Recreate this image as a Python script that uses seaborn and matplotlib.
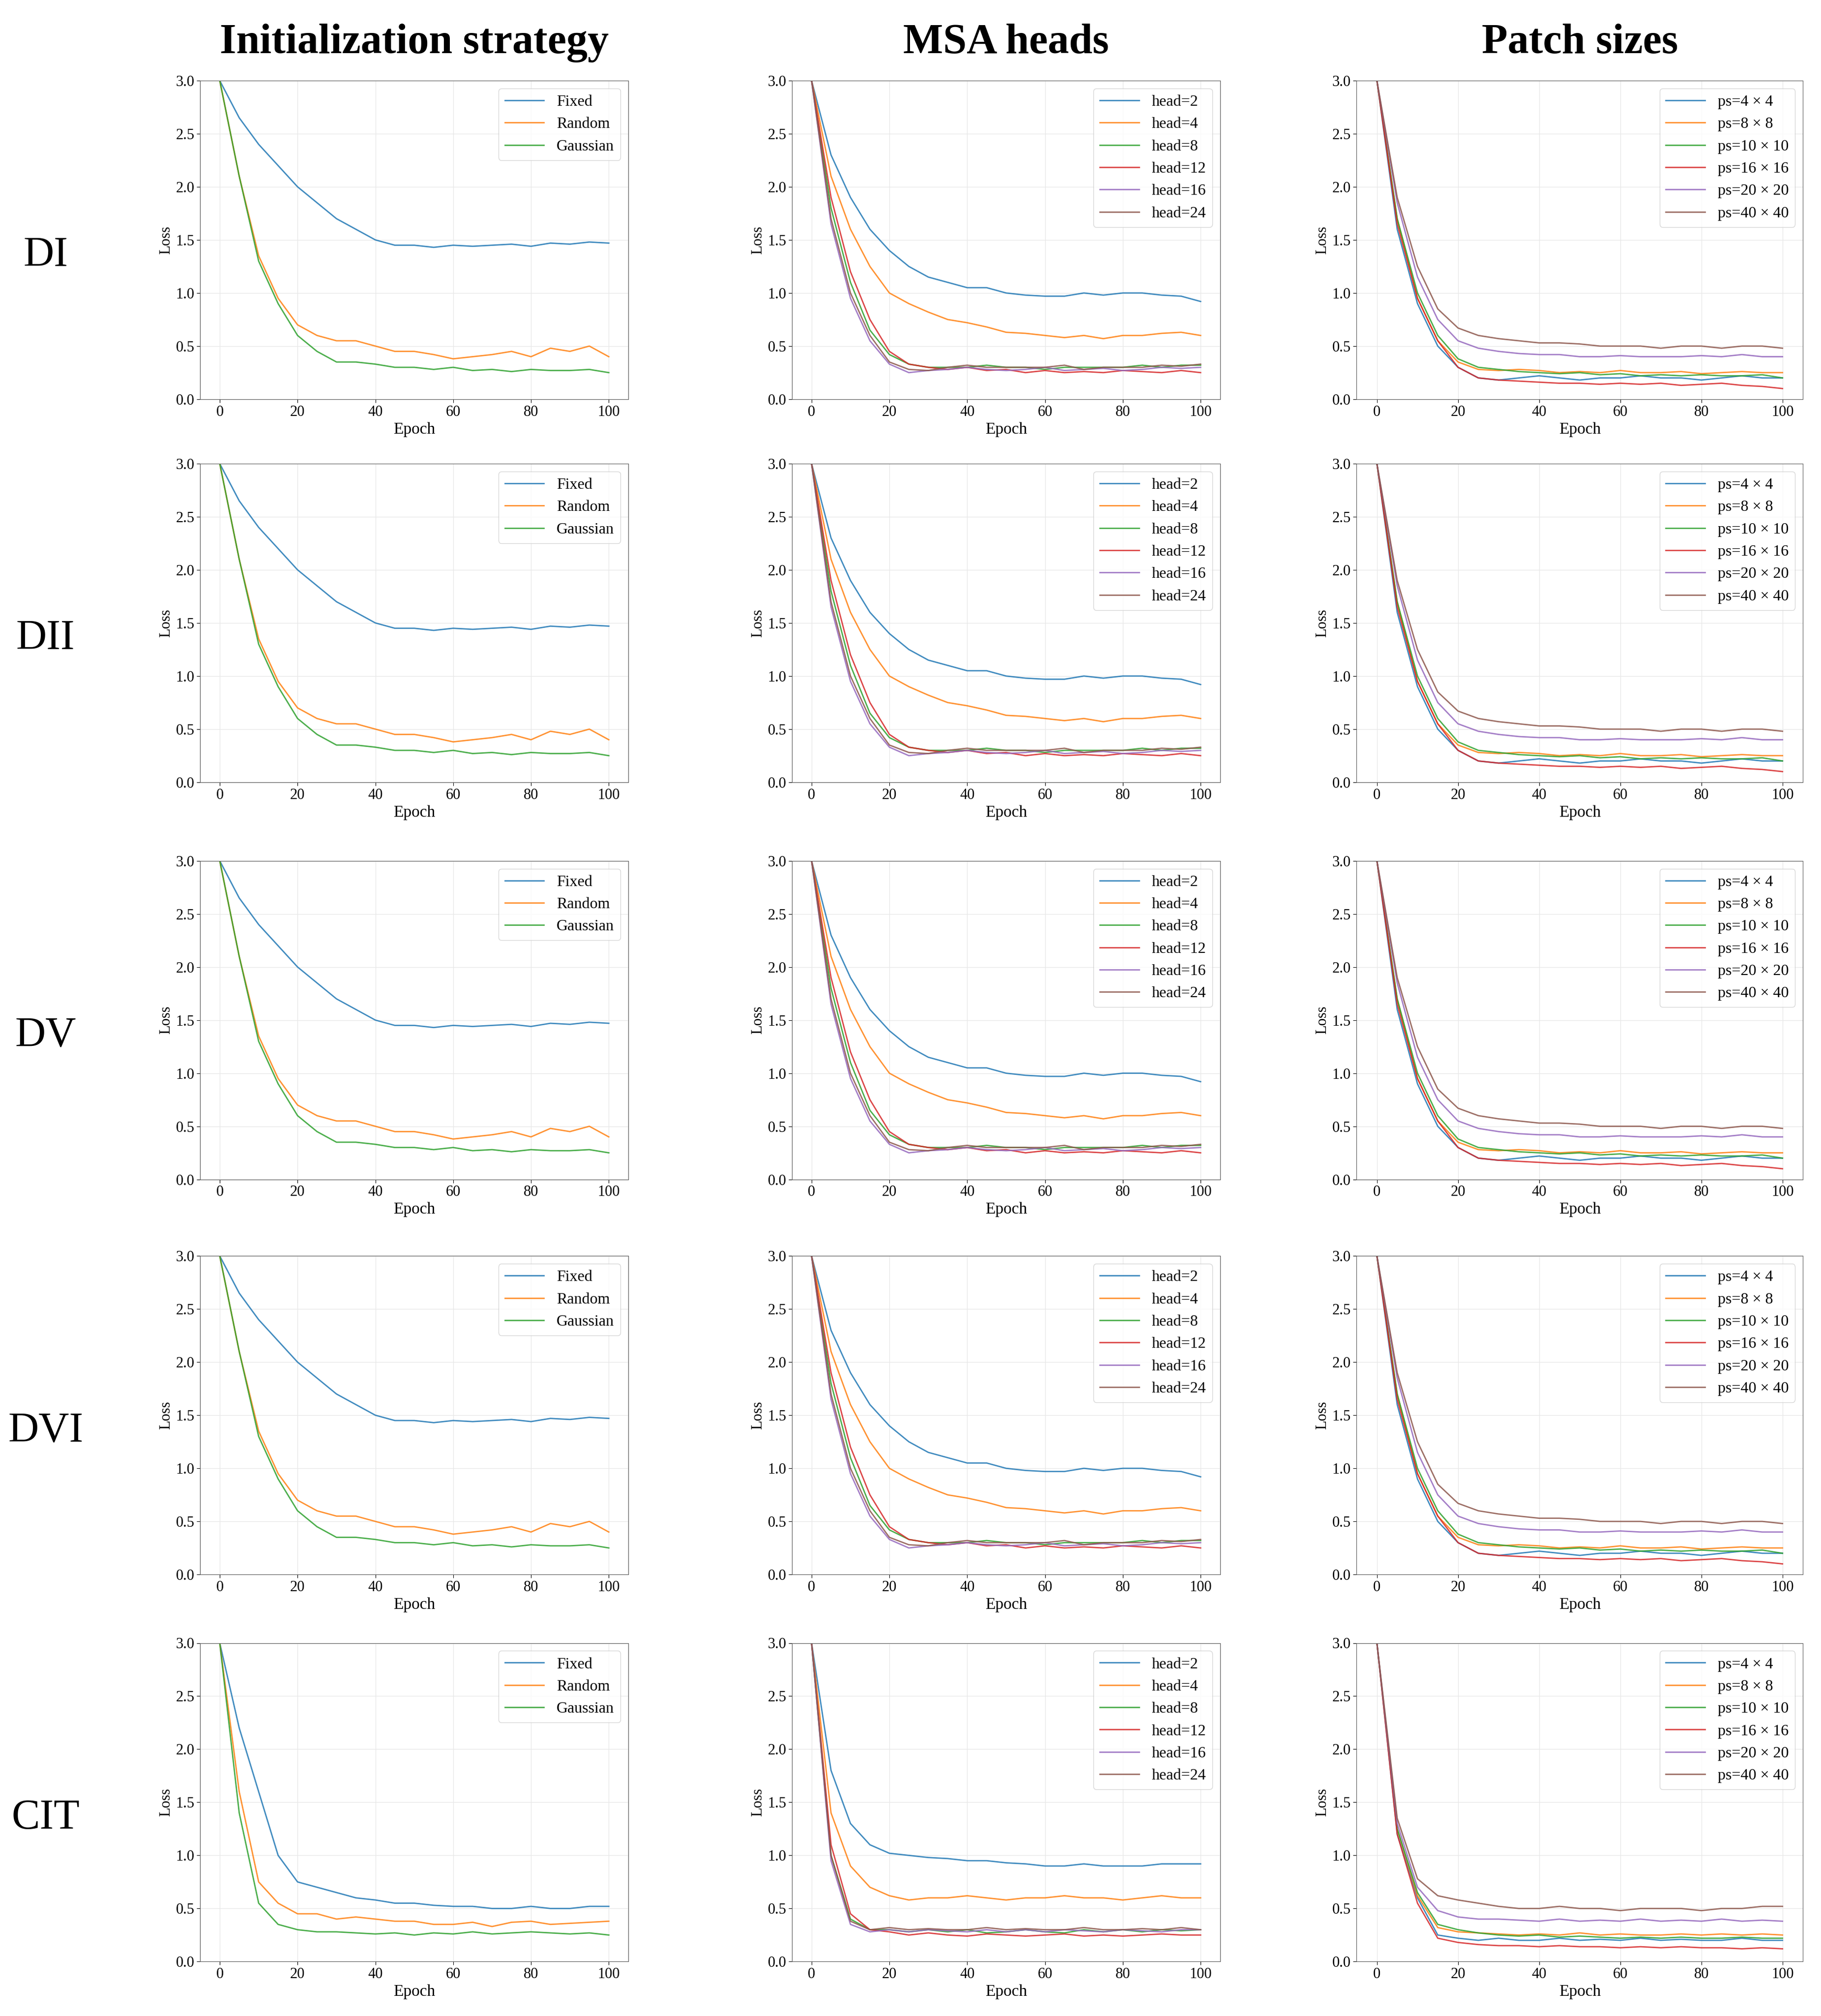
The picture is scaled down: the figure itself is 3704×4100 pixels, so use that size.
import matplotlib
matplotlib.use("Agg")
import matplotlib.pyplot as plt
import seaborn as sns
import pandas as pd

EPOCHS = list(range(0, 101, 5))
ROWS = ["DI", "DII", "DV", "DVI", "CIT"]
COL_TITLES = ["Initialization strategy", "MSA heads", "Patch sizes"]

INIT_LABELS = ["Fixed", "Random", "Gaussian"]
INIT_FIXED = [3.0, 2.65, 2.4, 2.2, 2.0, 1.85, 1.7, 1.6, 1.5, 1.45, 1.45, 1.43, 1.45, 1.44, 1.45, 1.46, 1.44, 1.47, 1.46, 1.48, 1.47]
INIT_RANDOM = [3.0, 2.1, 1.35, 0.95, 0.7, 0.6, 0.55, 0.55, 0.5, 0.45, 0.45, 0.42, 0.38, 0.4, 0.42, 0.45, 0.4, 0.48, 0.45, 0.5, 0.4]
INIT_GAUSS = [3.0, 2.1, 1.3, 0.9, 0.6, 0.45, 0.35, 0.35, 0.33, 0.3, 0.3, 0.28, 0.3, 0.27, 0.28, 0.26, 0.28, 0.27, 0.27, 0.28, 0.25]
INIT_FIXED_CIT = [3.0, 2.2, 1.6, 1.0, 0.75, 0.7, 0.65, 0.6, 0.58, 0.55, 0.55, 0.53, 0.52, 0.52, 0.5, 0.5, 0.52, 0.5, 0.5, 0.52, 0.52]
INIT_RANDOM_CIT = [3.0, 1.6, 0.75, 0.55, 0.45, 0.45, 0.4, 0.42, 0.4, 0.38, 0.38, 0.35, 0.35, 0.37, 0.33, 0.37, 0.38, 0.35, 0.36, 0.37, 0.38]
INIT_GAUSS_CIT = [3.0, 1.4, 0.55, 0.35, 0.3, 0.28, 0.28, 0.27, 0.26, 0.27, 0.25, 0.27, 0.26, 0.28, 0.26, 0.27, 0.28, 0.27, 0.26, 0.27, 0.25]

HEAD_LABELS = ["head=2", "head=4", "head=8", "head=12", "head=16", "head=24"]
HEAD2 = [3.0, 2.3, 1.9, 1.6, 1.4, 1.25, 1.15, 1.1, 1.05, 1.05, 1.0, 0.98, 0.97, 0.97, 1.0, 0.98, 1.0, 1.0, 0.98, 0.97, 0.92]
HEAD4 = [3.0, 2.1, 1.6, 1.25, 1.0, 0.9, 0.82, 0.75, 0.72, 0.68, 0.63, 0.62, 0.6, 0.58, 0.6, 0.57, 0.6, 0.6, 0.62, 0.63, 0.6]
HEAD8 = [3.0, 1.8, 1.1, 0.65, 0.42, 0.33, 0.3, 0.3, 0.3, 0.32, 0.3, 0.3, 0.28, 0.3, 0.3, 0.3, 0.3, 0.32, 0.3, 0.32, 0.32]
HEAD12 = [3.0, 1.9, 1.2, 0.75, 0.45, 0.33, 0.3, 0.28, 0.3, 0.27, 0.28, 0.25, 0.27, 0.25, 0.26, 0.25, 0.27, 0.26, 0.25, 0.27, 0.25]
HEAD16 = [3.0, 1.65, 0.95, 0.55, 0.33, 0.25, 0.27, 0.28, 0.3, 0.28, 0.27, 0.28, 0.3, 0.27, 0.28, 0.29, 0.27, 0.28, 0.3, 0.29, 0.3]
HEAD24 = [3.0, 1.7, 1.0, 0.6, 0.35, 0.28, 0.27, 0.3, 0.32, 0.3, 0.3, 0.3, 0.3, 0.32, 0.28, 0.3, 0.3, 0.3, 0.32, 0.31, 0.33]
HEAD2_CIT = [3.0, 1.8, 1.3, 1.1, 1.02, 1.0, 0.98, 0.97, 0.95, 0.95, 0.93, 0.92, 0.9, 0.9, 0.92, 0.9, 0.9, 0.9, 0.92, 0.92, 0.92]
HEAD4_CIT = [3.0, 1.4, 0.9, 0.7, 0.62, 0.58, 0.6, 0.6, 0.62, 0.6, 0.58, 0.6, 0.6, 0.62, 0.6, 0.6, 0.58, 0.6, 0.62, 0.6, 0.6]
HEAD8_CIT = [3.0, 1.0, 0.4, 0.3, 0.3, 0.28, 0.3, 0.28, 0.3, 0.27, 0.28, 0.3, 0.28, 0.27, 0.3, 0.28, 0.3, 0.28, 0.3, 0.29, 0.3]
HEAD12_CIT = [3.0, 1.1, 0.45, 0.3, 0.28, 0.25, 0.27, 0.25, 0.24, 0.26, 0.25, 0.24, 0.25, 0.26, 0.24, 0.25, 0.24, 0.25, 0.26, 0.25, 0.25]
HEAD16_CIT = [3.0, 0.95, 0.35, 0.28, 0.3, 0.28, 0.3, 0.29, 0.28, 0.3, 0.28, 0.3, 0.28, 0.3, 0.29, 0.28, 0.3, 0.29, 0.28, 0.3, 0.3]
HEAD24_CIT = [3.0, 1.0, 0.38, 0.3, 0.32, 0.3, 0.31, 0.3, 0.3, 0.32, 0.3, 0.31, 0.3, 0.3, 0.32, 0.3, 0.3, 0.31, 0.3, 0.32, 0.3]

PS_LABELS = ["ps=4 × 4", "ps=8 × 8", "ps=10 × 10", "ps=16 × 16", "ps=20 × 20", "ps=40 × 40"]
PS4 = [3.0, 1.6, 0.9, 0.5, 0.3, 0.2, 0.18, 0.2, 0.22, 0.2, 0.18, 0.2, 0.2, 0.22, 0.2, 0.2, 0.18, 0.2, 0.22, 0.2, 0.2]
PS8 = [3.0, 1.7, 0.95, 0.55, 0.35, 0.28, 0.27, 0.28, 0.27, 0.25, 0.26, 0.25, 0.27, 0.25, 0.25, 0.26, 0.24, 0.25, 0.26, 0.25, 0.25]
PS10 = [3.0, 1.7, 1.0, 0.6, 0.38, 0.3, 0.28, 0.26, 0.25, 0.24, 0.25, 0.23, 0.24, 0.22, 0.23, 0.22, 0.23, 0.22, 0.22, 0.23, 0.2]
PS16 = [3.0, 1.65, 0.95, 0.55, 0.3, 0.2, 0.18, 0.17, 0.16, 0.15, 0.15, 0.14, 0.15, 0.14, 0.15, 0.13, 0.14, 0.15, 0.13, 0.12, 0.1]
PS20 = [3.0, 1.85, 1.15, 0.75, 0.55, 0.48, 0.45, 0.43, 0.42, 0.42, 0.4, 0.4, 0.41, 0.4, 0.4, 0.4, 0.41, 0.4, 0.42, 0.4, 0.4]
PS40 = [3.0, 1.9, 1.25, 0.85, 0.67, 0.6, 0.57, 0.55, 0.53, 0.53, 0.52, 0.5, 0.5, 0.5, 0.48, 0.5, 0.5, 0.48, 0.5, 0.5, 0.48]
PS4_CIT = [3.0, 1.2, 0.6, 0.25, 0.22, 0.2, 0.22, 0.2, 0.2, 0.22, 0.2, 0.21, 0.2, 0.22, 0.2, 0.21, 0.2, 0.2, 0.22, 0.2, 0.2]
PS8_CIT = [3.0, 1.25, 0.62, 0.32, 0.28, 0.27, 0.26, 0.25, 0.26, 0.25, 0.27, 0.25, 0.26, 0.25, 0.25, 0.26, 0.25, 0.26, 0.25, 0.26, 0.25]
PS10_CIT = [3.0, 1.25, 0.65, 0.35, 0.3, 0.27, 0.25, 0.24, 0.25, 0.23, 0.24, 0.23, 0.22, 0.23, 0.22, 0.23, 0.22, 0.22, 0.23, 0.22, 0.22]
PS16_CIT = [3.0, 1.2, 0.55, 0.22, 0.18, 0.16, 0.15, 0.15, 0.14, 0.15, 0.14, 0.14, 0.13, 0.14, 0.13, 0.14, 0.13, 0.13, 0.12, 0.13, 0.12]
PS20_CIT = [3.0, 1.3, 0.7, 0.48, 0.42, 0.4, 0.4, 0.39, 0.38, 0.4, 0.38, 0.39, 0.38, 0.4, 0.38, 0.39, 0.38, 0.4, 0.38, 0.39, 0.38]
PS40_CIT = [3.0, 1.35, 0.78, 0.62, 0.58, 0.55, 0.52, 0.5, 0.5, 0.52, 0.5, 0.5, 0.48, 0.5, 0.5, 0.5, 0.48, 0.5, 0.5, 0.52, 0.52]

init_std = [INIT_FIXED, INIT_RANDOM, INIT_GAUSS]
init_cit = [INIT_FIXED_CIT, INIT_RANDOM_CIT, INIT_GAUSS_CIT]
head_std = [HEAD2, HEAD4, HEAD8, HEAD12, HEAD16, HEAD24]
head_cit = [HEAD2_CIT, HEAD4_CIT, HEAD8_CIT, HEAD12_CIT, HEAD16_CIT, HEAD24_CIT]
ps_std = [PS4, PS8, PS10, PS16, PS20, PS40]
ps_cit = [PS4_CIT, PS8_CIT, PS10_CIT, PS16_CIT, PS20_CIT, PS40_CIT]

plt.rcParams["font.family"] = "Liberation Serif"
fig = plt.figure(figsize=(37.04, 41.0), dpi=100)

col_left = [0.11, 0.435, 0.745]
col_w = [0.235, 0.235, 0.245]
row_bottom = [0.802, 0.612, 0.415, 0.219, 0.027]
row_h = 0.158
palette = sns.color_palette("tab10")

for r, row in enumerate(ROWS):
    cit = row == "CIT"
    panels = [
        (INIT_LABELS, init_cit if cit else init_std),
        (HEAD_LABELS, head_cit if cit else head_std),
        (PS_LABELS, ps_cit if cit else ps_std),
    ]
    for c, (labels, series) in enumerate(panels):
        ax = fig.add_axes([col_left[c], row_bottom[r], col_w[c], row_h])
        recs = []
        for lab, vals in zip(labels, series):
            for e, v in zip(EPOCHS, vals):
                recs.append({"Epoch": e, "Loss": v, "series": lab})
        df = pd.DataFrame(recs)
        sns.lineplot(data=df, x="Epoch", y="Loss", hue="series", hue_order=labels,
                     palette=palette[:len(labels)], linewidth=2.0, alpha=0.85, ax=ax)
        ax.set_xlim(-5, 105)
        ax.set_ylim(0, 3.0)
        ax.set_xticks(range(0, 101, 20))
        ax.set_yticks([0, 0.5, 1.0, 1.5, 2.0, 2.5, 3.0])
        ax.tick_params(labelsize=22, length=5)
        ax.set_xlabel("Epoch", fontsize=24)
        ax.set_ylabel("Loss", fontsize=22)
        ax.grid(True, color="#e8e8e8", linewidth=1)
        for s in ax.spines.values():
            s.set_color("#555555")
        leg = ax.legend(loc="upper right", fontsize=23, frameon=True, handlelength=2.5)
        leg.set_title(None)
        if r == 0:
            ax.set_title(COL_TITLES[c], fontsize=62, fontweight="bold", pad=40)
    fig.text(0.025, row_bottom[r] + row_h * 0.45, row, fontsize=62, ha="center", va="center")

fig.savefig("out.png", dpi=100)
